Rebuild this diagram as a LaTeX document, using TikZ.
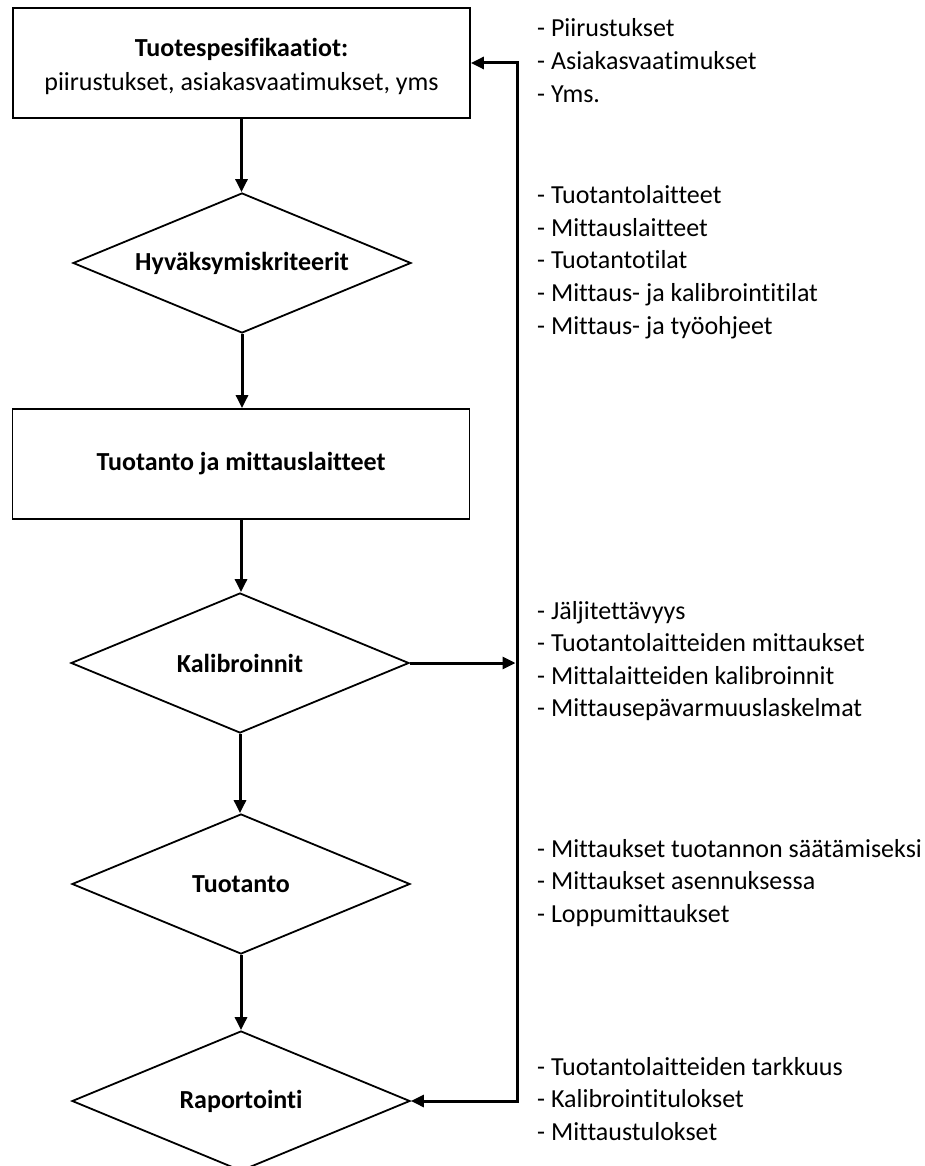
\documentclass[tikz,border=0pt]{standalone}
\usepackage{fontspec}
\setmainfont{Carlito}[Ligatures=NoCommon]
\usetikzlibrary{shapes.geometric,arrows.meta}
\begin{document}
\begin{tikzpicture}[x=1pt,y=-1pt,
  every node/.style={font=\fontsize{26}{34}\selectfont},
  flowbox/.style={draw, line width=1.8pt, rectangle, minimum width=457pt,
    minimum height=110pt, inner sep=0pt, align=center},
  decision/.style={draw, line width=1.8pt, diamond, aspect=2.4,
    minimum width=338pt, minimum height=140pt, inner sep=0pt,
    font=\fontsize{26}{34}\selectfont\bfseries},
  tip/.tip={Triangle[length=13pt,width=12pt]},
  flow/.style={line width=3pt, -tip},
  feedback/.style={line width=3pt, tip-tip},
  note/.style={anchor=base west, inner sep=0pt}
]
\useasboundingbox (0,0) rectangle (924,1166);

% main flow
\node[flowbox] (spec) at (241.5,63) {};
\node[align=center] (spectext) at (241.5,66)
  {\textbf{Tuotespesifikaatiot:}\\piirustukset, asiakasvaatimukset, yms};
\node[decision] (crit) at (242,263) {Hyväksymiskriteerit};
\node[flowbox] (equip) at (241,464) {\textbf{Tuotanto ja mittauslaitteet}};
\node[decision] (calib) at (240,663) {Kalibroinnit};
\node[decision] (prod) at (241,884) {Tuotanto};
\node[decision] (report) at (241,1101) {Raportointi};

\draw[flow] (spec.south) -- (spec.south |- crit.north);
\draw[flow] (crit.south) -- (crit.south |- equip.north);
\draw[flow] (equip.south) -- (equip.south |- calib.north);
\draw[flow] (calib.south) -- (calib.south |- prod.north);
\draw[flow] (prod.south) -- (prod.south |- report.north);

% feedback bus on the right
\coordinate (bus) at (517,0);
\draw[feedback] (spec.east) -| (report.east -| bus) -- (report.east);
\draw[flow, shorten >=1.5pt] (calib.east) -- (calib.east -| bus);

% notes beside the flow
\foreach \t [count=\i] in {Piirustukset, Asiakasvaatimukset, Yms.}
  \node[note] (na-\i) at (537,{37+33*(\i-1)}) {- \t};
\foreach \t [count=\i] in {Tuotantolaitteet, Mittauslaitteet, Tuotantotilat,
    Mittaus- ja kalibrointitilat, Mittaus- ja työohjeet}
  \node[note] (nb-\i) at (537,{204+32.5*(\i-1)}) {- \t};
\foreach \t [count=\i] in {Jäljitettävyys, Tuotantolaitteiden mittaukset,
    Mittalaitteiden kalibroinnit, Mittausepävarmuuslaskelmat}
  \node[note] (nc-\i) at (537,{619+32.5*(\i-1)}) {- \t};
\foreach \t [count=\i] in {Mittaukset tuotannon säätämiseksi,
    Mittaukset asennuksessa, Loppumittaukset}
  \node[note] (nd-\i) at (537,{857+32.5*(\i-1)}) {- \t};
\foreach \t [count=\i] in {Tuotantolaitteiden tarkkuus, Kalibrointitulokset,
    Mittaustulokset}
  \node[note] (ne-\i) at (537,{1075+32.5*(\i-1)}) {- \t};
\end{tikzpicture}
\end{document}
